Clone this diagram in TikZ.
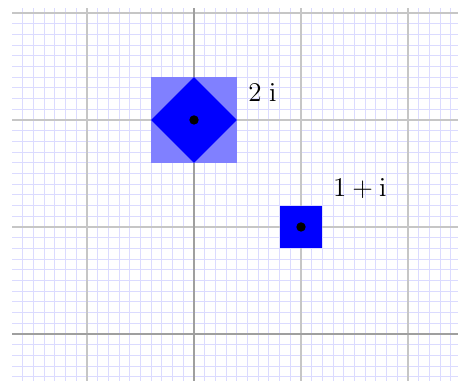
\documentclass[tikz,border=0pt]{standalone}
\usetikzlibrary{positioning}
\tikzset{
    finegrid/.style={draw=blue!14, line width=0.5pt},
    coarsegrid/.style={draw=gray!45, line width=0.6pt},
    axisline/.style={draw=gray!75, line width=0.9pt},
    halo/.style={fill=blue!50},
    spot/.style={fill=blue},
    dot/.style={circle, fill=black, inner sep=0pt, minimum size=5pt},
    tag/.style={inner sep=1pt, font=\Large}
}
\begin{document}
\begin{tikzpicture}[x=2cm,y=2cm]
	\useasboundingbox (-1.813,-0.439) rectangle (2.467,3.121);
	\clip (-1.813,-0.439) rectangle (2.467,3.121);
	% grid
	\draw[finegrid] (-1.7,-0.5) grid[step=0.1] (2.5,3.05);
	\draw[coarsegrid] (-1.7,-0.5) grid[step=1] (2.5,3.05);
	\draw[axisline] (-1.7,0)--(2.5,0);
	\draw[axisline] (0,-0.5)--(0,3.05);
	% 2i
	\fill[halo] (-0.4,1.6) rectangle (0.4,2.4);
	\fill[spot] (0,2.4)--(0.4,2)--(0,1.6)--(-0.4,2)--cycle;
	\node[dot] (p2i) at (0,2) {};
	\node[tag] (l2i) at (0.64,2.26) {$2\;\mathrm{i}$};
	% 1+i
	\fill[spot] (0.8,0.8) rectangle (1.2,1.2);
	\node[dot] (p1i) at (1,1) {};
	\node[tag] (l1i) at (1.55,1.36) {$1+\mathrm{i}$};
\end{tikzpicture}
\end{document}
